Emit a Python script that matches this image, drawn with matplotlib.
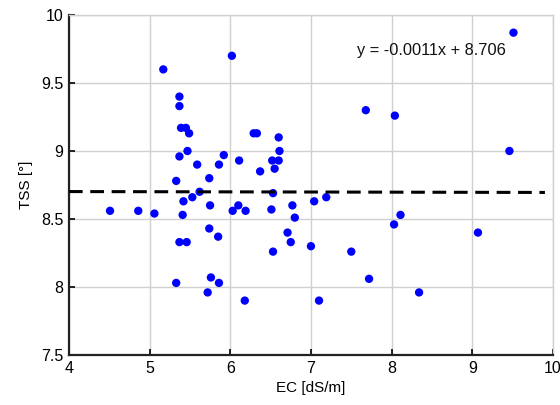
import matplotlib.pyplot as plt
import numpy as np

plt.rcParams.update({
    'font.family': ['Liberation Sans', 'DejaVu Sans'],
    'font.size': 11,
})

# EC [dS/m] and TSS [°]
ec = [5.17, 6.02, 5.37, 5.37, 5.39, 5.45, 5.49, 6.29, 6.33, 6.60,
      5.47, 5.37, 6.61, 5.92, 5.59, 5.86, 6.11, 6.52, 6.60, 6.55,
      6.37, 5.74, 5.33, 5.62, 6.53, 5.53, 5.42, 4.51, 4.86, 5.06,
      5.41, 5.75, 6.03, 6.10, 6.19, 6.51, 6.77, 6.80, 6.71, 6.75,
      7.00, 6.53, 5.74, 5.85, 5.37, 5.46, 5.33, 5.76, 5.86, 5.72,
      6.18, 9.51, 7.68, 8.04, 9.46, 7.04, 7.19, 8.11, 8.03, 9.07,
      7.50, 7.72, 8.34, 7.10]
tss = [9.60, 9.70, 9.40, 9.33, 9.17, 9.17, 9.13, 9.13, 9.13, 9.10,
       9.00, 8.96, 9.00, 8.97, 8.90, 8.90, 8.93, 8.93, 8.93, 8.87,
       8.85, 8.80, 8.78, 8.70, 8.69, 8.66, 8.63, 8.56, 8.56, 8.54,
       8.53, 8.60, 8.56, 8.60, 8.56, 8.57, 8.60, 8.51, 8.40, 8.33,
       8.30, 8.26, 8.43, 8.37, 8.33, 8.33, 8.03, 8.07, 8.03, 7.96,
       7.90, 9.87, 9.30, 9.26, 9.00, 8.63, 8.66, 8.53, 8.46, 8.40,
       8.26, 8.06, 7.96, 7.90]

# trend line
slope = -0.0011
intercept = 8.706
line_x = np.array([4.0, 9.9])

fig = plt.figure(figsize=(5.6, 4.05), dpi=100)
ax = fig.add_axes([0.123, 0.1235, 0.8645, 0.8395])

ax.scatter(ec, tss, s=36, color='#0000ff', edgecolors='none', zorder=3)
ax.plot(line_x, slope * line_x + intercept, color='black', lw=2.2,
        ls=(0, (4.5, 2.5)), zorder=4)

ax.text(8.49, 9.74, 'y = -0.0011x + 8.706', ha='center', va='center',
        fontsize=11.8, color='#111111')

ax.set_xlim(4, 10)
ax.set_ylim(7.5, 10)
ax.set_xticks([4, 5, 6, 7, 8, 9, 10])
ax.set_yticks([7.5, 8, 8.5, 9, 9.5, 10])
ax.set_yticklabels(['7.5', '8', '8.5', '9', '9.5', '10'])
ax.set_xlabel('EC [dS/m]', fontsize=11, labelpad=4)
ax.set_ylabel('TSS [°]', fontsize=11, labelpad=6)

ax.grid(True, color='#d0d0d0', lw=1)
ax.set_axisbelow(True)
ax.tick_params(direction='in', length=4, width=1.2, pad=4, labelsize=11.5)
for side in ['left', 'bottom']:
    ax.spines[side].set_linewidth(1.6)
    ax.spines[side].set_color('#222222')
for side in ['top', 'right']:
    ax.spines[side].set_color('#d0d0d0')
    ax.spines[side].set_linewidth(1)

fig.savefig('out.png', dpi=100, facecolor='white')
